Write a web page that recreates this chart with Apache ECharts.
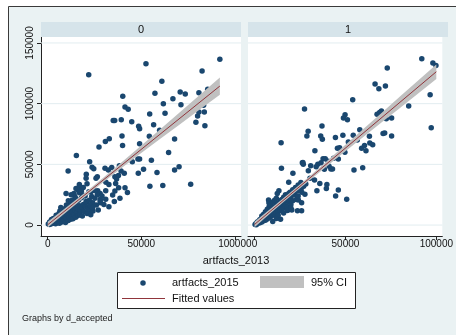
<!DOCTYPE html>
<html>
<head>
<meta charset="utf-8">
<script src="https://cdn.jsdelivr.net/npm/echarts@6/dist/echarts.min.js"></script>
<style>
  html, body { margin: 0; padding: 0; background: #ffffff; }
  #chart { width: 456px; height: 335px; }
</style>
</head>
<body>
<div id="chart"></div>
<script>
// All data values are in thousands (artfacts_2013 on x, artfacts_2015 on y).
const K = 1000;
const panelLabels = ['0', '1'];
const xTickValues = [0, 50000, 100000];
const yTickValues = [0, 50000, 100000, 150000];
const xTitle = 'artfacts_2013';
const legendScatter = 'artfacts_2015';
const legendCI = '95% CI';
const legendFit = 'Fitted values';
const noteText = 'Graphs by d_accepted';

// d_accepted = 0
const points0 = [
  [92.0,136.5],[52.5,132.8],[21.9,123.9],[82.5,126.8],[61.0,118.5],[40.1,106.0],[57.3,108.5],[66.9,104.0],
  [70.8,109.6],[73.5,107.9],[80.8,109.0],[85.5,111.8],[71.2,99.1],[61.8,99.9],[41.3,97.2],[43.0,95.3],
  [62.7,92.0],[54.5,91.4],[35.0,86.2],[35.8,86.2],[39.3,86.8],[44.9,85.1],[48.6,81.3],[49.1,79.3],
  [56.6,82.6],[59.8,78.0],[79.2,84.6],[80.1,89.8],[80.8,93.1],[83.7,93.1],[83.3,98.6],[84.0,81.8],
  [39.7,73.3],[54.3,73.1],[67.8,70.8],[30.8,68.9],[32.9,71.1],[40.0,65.6],[49.1,67.0],[27.4,64.2],
  [64.6,59.8],[15.3,57.4],[22.4,52.2],[55.4,53.4],[10.9,44.5],[23.7,47.6],[24.6,46.4],[30.6,46.7],
  [32.4,45.3],[34.2,47.5],[38.3,48.9],[39.2,44.5],[40.9,42.6],[37.8,40.8],[20.6,41.8],[20.5,38.5],
  [26.5,39.8],[25.8,38.5],[35.9,39.8],[36.8,37.9],[48.4,42.6],[51.2,45.9],[49.1,54.4],[48.2,54.4],
  [45.2,52.1],[58.4,43.3],[67.8,45.3],[70.2,48.0],[54.6,32.0],[61.5,32.5],[76.4,33.6],[16.9,33.5],
  [31.1,35.2],[32.7,33.5],[36.3,34.3],[37.9,30.8],[41.3,30.8],[42.6,26.8],[35.9,28.0],[26.7,28.3],
  [28.0,26.1],[31.0,28.3],[28.1,21.2],[31.0,21.2],[35.6,19.5],[38.6,22.0],[34.7,24.7],[28.1,18.4],
  [32.7,15.1],[24.0,18.4],[23.0,11.5],[24.2,11.5],[20.8,18.7],[9.8,26.1],[15.1,30.2],[16.9,26.6],
  [16.9,31.5],[18.7,24.7],[23.1,27.4],[14.8,22.0],
  [0.3,0.8],[1.0,0.4],[1.5,2.0],[2.0,1.0],[2.5,3.2],[3.0,1.5],[3.5,2.5],[4.0,4.2],[4.2,1.0],[4.5,3.0],
  [5.0,5.5],[5.2,2.0],[5.5,7.0],[6.0,3.2],[6.3,1.5],[6.5,4.5],[7.0,8.5],[7.2,5.5],[7.5,2.5],[8.0,6.2],
  [8.3,3.5],[8.5,9.8],[9.0,4.2],[9.2,7.2],[9.5,2.2],[10.0,5.8],[10.2,10.5],[10.5,8.0],[11.0,3.8],[11.2,12.5],
  [11.5,6.2],[12.0,9.2],[12.3,4.8],[12.5,14.5],[13.0,7.2],[13.2,11.0],[13.5,5.2],[14.0,8.8],[14.2,15.5],[14.5,12.2],
  [15.0,6.5],[15.2,18.5],[15.5,10.2],[16.0,13.5],[16.2,7.8],[16.5,20.5],[17.0,16.0],[17.2,9.2],[17.5,12.5],[18.0,22.5],
  [18.2,14.2],[18.5,7.5],[19.0,17.0],[19.5,11.2],[20.0,24.0],[20.2,15.2],[20.5,19.5],[21.0,9.5],[21.5,13.2],[22.0,27.5],
  [22.2,20.5],[22.5,16.2],[23.0,8.5],[23.5,23.5],[24.0,14.5],[25.0,28.5],[25.2,22.0],[26.0,16.5],[26.5,25.0],[27.0,12.5],
  [28.0,20.0],[29.0,24.0],[30.0,17.0],[3.0,5.5],[6.0,9.5],[9.0,13.5],[12.0,18.5],[13.0,20.5],[14.5,23.5],[14.0,26.0],
  [16.0,29.0],[17.5,28.5],[19.0,31.0],[18.0,28.0],[21.0,34.0],[10.0,16.5],[11.0,20.0],[8.0,12.5],[7.0,14.5],[12.5,25.0],
  [6.5,11.5],[4.5,8.0],[2.0,4.5],[1.0,2.5]
];

// d_accepted = 1
const points1 = [
  [92.0,137.0],[98.1,133.4],[99.8,131.5],[73.0,129.3],[66.3,116.1],[68.4,112.3],[72.0,114.5],[54.0,103.2],
  [27.5,95.5],[96.6,107.3],[84.8,98.0],[97.2,80.2],[67.4,91.2],[68.8,92.8],[69.8,93.9],[72.5,87.6],
  [75.4,88.1],[49.8,90.9],[48.9,88.1],[51.1,86.7],[37.1,81.5],[29.5,77.2],[28.8,73.3],[36.4,73.3],
  [37.3,70.6],[44.5,72.2],[48.6,73.9],[54.3,73.9],[57.9,78.5],[63.2,73.1],[70.7,75.5],[71.6,75.8],
  [75.4,73.3],[14.6,67.8],[63.4,67.5],[65.0,66.1],[51.6,68.4],[33.2,61.2],[45.6,63.2],[46.8,63.7],
  [49.7,59.9],[46.1,54.4],[58.9,63.2],[61.3,61.2],[42.9,46.1],[54.7,45.3],[59.5,47.2],[46.1,28.8],
  [44.6,23.9],[50.7,21.2],[37.7,54.7],[38.9,54.7],[26.3,51.4],[26.8,50.0],[30.9,48.9],[34.8,50.0],
  [36.6,51.4],[14.8,46.7],[21.1,42.6],[33.9,48.1],[38.4,45.9],[42.0,46.2],[33.0,37.1],[35.9,34.3],
  [39.8,33.5],[39.5,30.2],[34.3,28.3],[30.5,38.5],[28.2,33.8],[25.9,30.8],[27.7,25.3],[24.1,20.6],
  [25.9,18.4],[23.6,11.8],[25.9,11.8],[18.8,35.2],[18.8,26.1],[13.4,28.3],[12.5,26.1],[7.7,20.6],
  [7.9,18.4],[14.3,4.7],[18.4,12.4],[20.5,12.4],[29.6,44.7],[26.6,51.6],[41.0,48.5],[43.5,55.0],
  [40.5,52.5],[56.5,70.0],[60.5,65.5],
  [0.3,0.5],[0.8,1.2],[1.0,0.3],[1.5,2.5],[2.0,1.5],[2.5,3.5],[3.0,2.0],[3.0,4.5],[3.5,3.0],[4.0,5.5],
  [4.0,2.5],[4.5,4.0],[5.0,6.5],[5.0,3.5],[5.5,5.0],[6.0,8.0],[6.0,4.0],[6.5,6.0],[7.0,9.5],[7.0,5.0],
  [7.5,7.0],[8.0,11.0],[8.0,6.0],[8.5,8.5],[9.0,12.0],[9.0,7.0],[9.5,10.0],[10.0,13.5],[10.0,8.0],[10.5,11.0],
  [11.0,15.0],[11.0,9.0],[11.5,12.5],[12.0,17.0],[12.0,10.0],[12.5,14.0],[13.0,18.0],[13.0,11.0],[13.5,15.5],[14.0,20.0],
  [14.0,12.0],[14.5,17.0],[15.0,21.0],[15.0,13.0],[15.5,18.5],[16.0,23.0],[16.0,14.0],[16.5,19.0],[17.0,25.0],[17.0,16.0],
  [17.5,21.0],[18.0,22.0],[18.0,15.0],[18.5,24.0],[19.0,19.0],[19.5,27.0],[20.0,23.0],[20.0,17.0],[21.0,29.0],[21.0,20.0],
  [22.0,25.0],[22.5,31.0],[23.0,21.0],[23.5,28.0],[24.0,33.0],[24.0,24.0],[25.0,30.0],[25.5,35.0],[26.0,27.0],[27.0,32.0],
  [8.0,15.0],[9.0,17.0],[10.0,19.0],[11.0,20.5],[12.0,22.0],[7.0,13.0],[6.0,11.0],[5.0,9.0],[4.0,7.5],[10.0,3.0],
  [12.0,5.5],[13.0,8.0],[16.0,10.0],[18.0,12.0],[20.0,14.0]
];

// Linear fit (end points) and its 95% confidence band
const fitX0 = [0, 92];
const fitY0 = [0.3, 114.5];
const ciX0  = [0, 10, 20, 30, 40, 50, 60, 70, 80, 92];
const ciLo0 = [-2.1, 10.7, 23.3, 35.6, 47.6, 59.3, 70.9, 82.3, 93.8, 107.4];
const ciHi0 = [2.7, 14.7, 26.9, 39.4, 52.4, 65.5, 78.7, 92.1, 105.4, 121.6];

const fitX1 = [0, 100];
const fitY1 = [0.5, 126.3];
const ciX1  = [0, 10, 20, 30, 40, 50, 60, 70, 80, 90, 100];
const ciLo1 = [-1.7, 11.3, 24.1, 36.5, 48.7, 60.7, 72.7, 84.6, 96.4, 108.3, 120.3];
const ciHi1 = [2.7, 14.9, 27.3, 39.9, 52.9, 66.1, 79.3, 92.6, 105.8, 119.1, 132.3];

const FONT = '"Liberation Sans", Arial, Helvetica, sans-serif';
const NAVY = '#1A476F';
const MAROON = '#90353B';
const CI_GRAY = '#C0C0C0';
const BG = '#EAF2F3';
const STRIP = '#D6E4EA';
const GRIDLINE = '#E2EDF0';

const X_MIN = -3600, X_MAX = 103300;
const Y_MIN = -9000, Y_MAX = 154900;

const scale = arr => arr.map(p => [p[0] * K, p[1] * K]);
const pairs = (xs, ys) => xs.map((x, i) => [x * K, ys[i] * K]);

function xAxisFor(gi) {
  return {
    type: 'value', gridIndex: gi, min: X_MIN, max: X_MAX,
    axisLine: { show: true, onZero: false, lineStyle: { color: '#222', width: 1 } },
    axisTick: { show: true, customValues: xTickValues, length: 4, lineStyle: { color: '#222' } },
    axisLabel: { show: true, customValues: xTickValues, margin: 3, fontSize: 10, color: '#111',
                 fontFamily: FONT, formatter: v => String(v) },
    splitLine: { show: false }
  };
}

function yAxisFor(gi) {
  const showAxis = gi === 0;
  return {
    type: 'value', gridIndex: gi, min: Y_MIN, max: Y_MAX,
    axisLine: { show: showAxis, onZero: false, lineStyle: { color: '#222', width: 1 } },
    axisTick: { show: showAxis, customValues: yTickValues, length: 4, lineStyle: { color: '#222' } },
    axisLabel: { show: showAxis, customValues: yTickValues, rotate: 90, margin: 6, fontSize: 10,
                 color: '#111', fontFamily: FONT, formatter: v => String(v) },
    splitLine: { show: false }
  };
}

// horizontal reference lines at each y tick, drawn beneath the markers
function gridLineSeries(gi) {
  return yTickValues.map(v => ({
    type: 'line', xAxisIndex: gi, yAxisIndex: gi, z: 1, silent: true,
    showSymbol: false, symbol: 'none',
    lineStyle: { color: GRIDLINE, width: 1 },
    data: [[X_MIN, v], [X_MAX, v]]
  }));
}

function scatterSeries(gi, pts) {
  return {
    type: 'scatter', xAxisIndex: gi, yAxisIndex: gi, z: 2,
    symbol: 'circle', symbolSize: 5.5,
    itemStyle: { color: NAVY, opacity: 1 },
    data: scale(pts)
  };
}

function bandSeries(gi, xs, lo, hi) {
  return {
    type: 'custom', xAxisIndex: gi, yAxisIndex: gi, z: 3, silent: true,
    data: [[xs[0] * K, lo[0] * K]],
    renderItem: function (params, api) {
      const pts = [];
      for (let i = 0; i < xs.length; i++) pts.push(api.coord([xs[i] * K, hi[i] * K]));
      for (let i = xs.length - 1; i >= 0; i--) pts.push(api.coord([xs[i] * K, lo[i] * K]));
      return { type: 'polygon', shape: { points: pts }, style: { fill: CI_GRAY } };
    }
  };
}

function fitSeries(gi, xs, ys) {
  return {
    type: 'line', xAxisIndex: gi, yAxisIndex: gi, z: 4,
    showSymbol: false, symbol: 'none',
    lineStyle: { color: MAROON, width: 1 },
    data: pairs(xs, ys)
  };
}

const panels = [
  { left: 41, pts: points0, fx: fitX0, fy: fitY0, cx: ciX0, lo: ciLo0, hi: ciHi0 },
  { left: 248, pts: points1, fx: fitX1, fy: fitY1, cx: ciX1, lo: ciLo1, hi: ciHi1 }
];

const series = [];
panels.forEach((p, gi) => {
  gridLineSeries(gi).forEach(s => series.push(s));
  series.push(scatterSeries(gi, p.pts));
  series.push(bandSeries(gi, p.cx, p.lo, p.hi));
  series.push(fitSeries(gi, p.fx, p.fy));
});

const graphics = [
  // page background and frame
  { type: 'rect', z: -100, shape: { x: 8.5, y: 6.5, width: 460, height: 340 },
    style: { fill: BG, stroke: '#3a3a3a', lineWidth: 1 } }
];

// panel strips with the d_accepted value
panels.forEach((p, gi) => {
  graphics.push({ type: 'rect', z: 5, shape: { x: p.left, y: 22, width: 200, height: 15 },
                  style: { fill: STRIP } });
  graphics.push({ type: 'text', z: 6, style: { text: panelLabels[gi], x: p.left + 100, y: 29.5,
                  align: 'center', verticalAlign: 'middle', font: '11px ' + FONT, fill: '#111' } });
});

// axis title
graphics.push({ type: 'text', z: 6, style: { text: xTitle, x: 236, y: 261, align: 'center',
                verticalAlign: 'middle', font: '11px ' + FONT, fill: '#111' } });

// legend box
graphics.push({ type: 'rect', z: 6, shape: { x: 117.5, y: 272.5, width: 238, height: 36 },
                style: { fill: '#ffffff', stroke: '#222', lineWidth: 1 } });
graphics.push({ type: 'circle', z: 7, shape: { cx: 143, cy: 283, r: 2.75 }, style: { fill: NAVY } });
graphics.push({ type: 'text', z: 7, style: { text: legendScatter, x: 172, y: 283, align: 'left',
                verticalAlign: 'middle', font: '11px ' + FONT, fill: '#111' } });
graphics.push({ type: 'rect', z: 7, shape: { x: 260, y: 276, width: 44, height: 12 }, style: { fill: CI_GRAY } });
graphics.push({ type: 'text', z: 7, style: { text: legendCI, x: 311, y: 283, align: 'left',
                verticalAlign: 'middle', font: '11px ' + FONT, fill: '#111' } });
graphics.push({ type: 'line', z: 7, shape: { x1: 122, y1: 298.5, x2: 165, y2: 298.5 },
                style: { stroke: MAROON, lineWidth: 1 } });
graphics.push({ type: 'text', z: 7, style: { text: legendFit, x: 172, y: 298.5, align: 'left',
                verticalAlign: 'middle', font: '11px ' + FONT, fill: '#111' } });

// note
graphics.push({ type: 'text', z: 7, style: { text: noteText, x: 22, y: 319, align: 'left',
                verticalAlign: 'middle', font: '9px ' + FONT, fill: '#222' } });

const chart = echarts.init(document.getElementById('chart'), null, { renderer: 'canvas' });
chart.setOption({
  animation: false,
  backgroundColor: '#ffffff',
  grid: panels.map(p => ({ left: p.left, top: 37, width: 200, height: 199, show: true,
                           backgroundColor: '#ffffff', borderWidth: 0, containLabel: false })),
  xAxis: panels.map((p, gi) => xAxisFor(gi)),
  yAxis: panels.map((p, gi) => yAxisFor(gi)),
  series: series,
  graphic: graphics
});
</script>
</body>
</html>
